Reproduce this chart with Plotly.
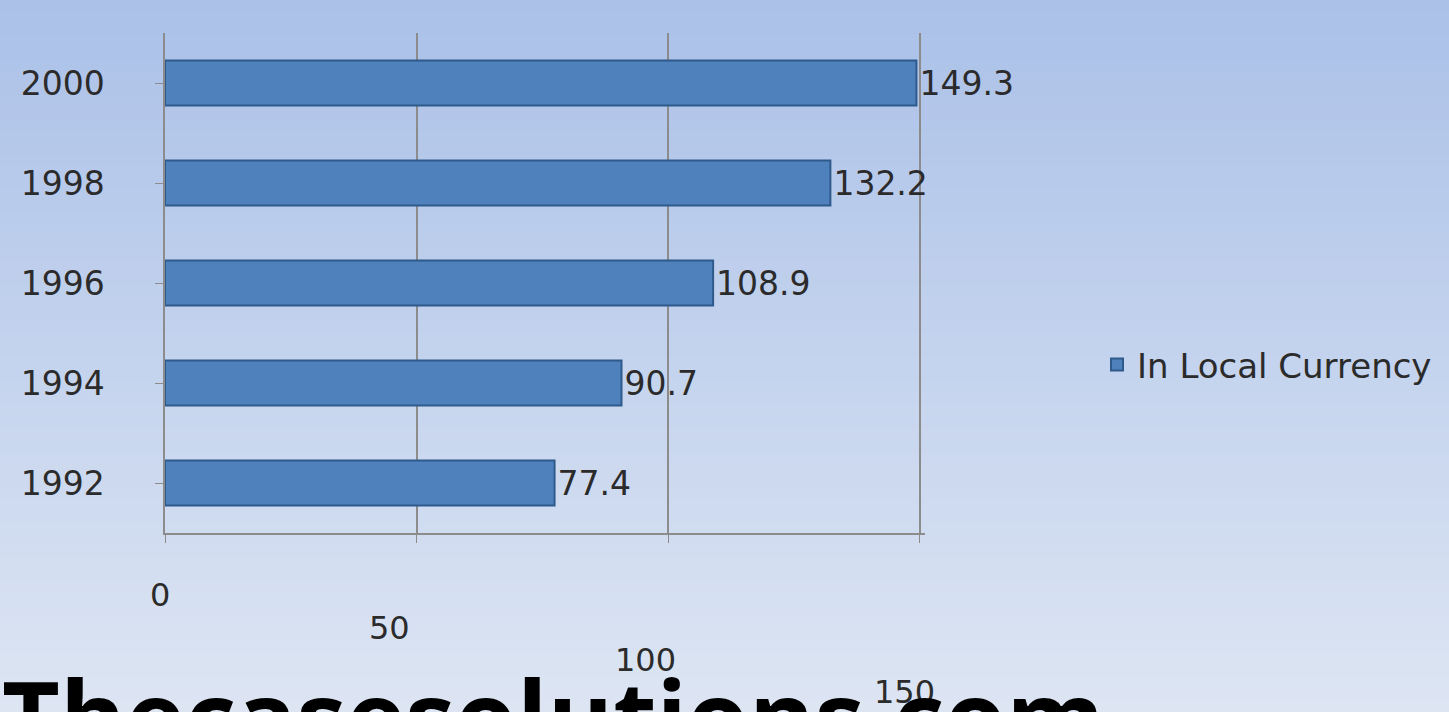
import plotly.graph_objects as go

years = ["1992", "1994", "1996", "1998", "2000"]
values = [77.4, 90.7, 108.9, 132.2, 149.3]
x_ticks = [0, 50, 100, 150]
series_name = "In Local Currency"

W, H = 1449, 712
ML, MR, MT, MB = 165, 524, 33, 179
PW, PH = W - ML - MR, H - MT - MB

FONT = "DejaVu Sans"
TXT = "#2b2b2b"

fig = go.Figure()
fig.add_trace(go.Bar(
    y=years, x=values, orientation="h", name=series_name,
    marker=dict(color="#4f81bd", line=dict(color="#2f5a8c", width=2)),
    width=0.45,
    text=[f"{v:.1f}" for v in values], textposition="outside",
    textfont=dict(family=FONT, size=33, color=TXT),
    cliponaxis=False,
))

# gradient background strips
def lerp(a, b, t):
    return int(round(a + (b - a) * t))
top = (0xab, 0xc1, 0xe8)
bot = (0xdd, 0xe5, 0xf3)
N = 60
shapes = []
for i in range(N):
    t = i / (N - 1)
    c = tuple(lerp(top[k], bot[k], t) for k in range(3))
    py0 = H * i / N
    py1 = H * (i + 1) / N + 1
    shapes.append(dict(
        type="rect", xref="paper", yref="paper", layer="below",
        x0=-ML / PW - 0.01, x1=(W - ML) / PW + 0.01,
        y0=(H - MB - py1) / PH, y1=(H - MB - py0) / PH,
        fillcolor="rgb(%d,%d,%d)" % c, line=dict(width=0),
    ))

def py(pix):
    return (H - MB - pix) / PH

annotations = []
label_pix = [595, 628, 660, 692]
label_shift = [-5, -27, -23, -15]
for xv, yp, xs in zip(x_ticks, label_pix, label_shift):
    annotations.append(dict(
        x=xv, y=py(yp), xref="x", yref="paper", text=str(xv), showarrow=False,
        font=dict(family=FONT, size=32, color=TXT), xshift=xs,
        xanchor="center", yanchor="middle",
    ))
annotations.append(dict(
    x=-ML / PW, y=py(645), xref="paper", yref="paper",
    text="<b>Thecasesolutions.com</b>", showarrow=False,
    font=dict(family="Open Sans", size=100, color="#000000"),
    xanchor="left", yanchor="top",
))

fig.update_layout(
    width=W, height=H,
    margin=dict(l=ML, r=MR, t=MT, b=MB),
    paper_bgcolor="#c3d2ec", plot_bgcolor="rgba(0,0,0,0)",
    shapes=shapes, annotations=annotations,
    showlegend=True,
    legend=dict(x=(1097 - ML) / PW, y=py(365), xanchor="left", yanchor="middle",
                font=dict(family=FONT, size=34, color=TXT),
                bgcolor="rgba(0,0,0,0)", itemwidth=30),
    xaxis=dict(range=[0, 151], tickvals=x_ticks, showticklabels=False,
               showgrid=True, gridcolor="#8c8c8c", gridwidth=1.5,
               zeroline=False, showline=True, linecolor="#8c8c8c", linewidth=1.5,
               ticks="outside", ticklen=8, tickcolor="#8c8c8c"),
    yaxis=dict(categoryorder="array", categoryarray=years,
               tickfont=dict(family=FONT, size=33, color=TXT),
               showline=True, linecolor="#8c8c8c", linewidth=1.5,
               ticks="outside", ticklen=8, tickcolor="#8c8c8c", ticklabelstandoff=44,
               showgrid=False),
)

fig.write_html("out.html")
